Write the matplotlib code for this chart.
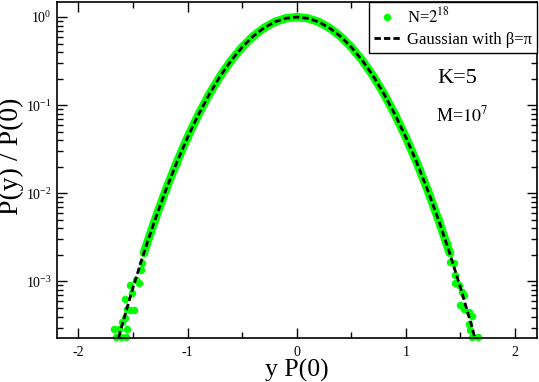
import matplotlib
matplotlib.use("Agg")
import matplotlib.pyplot as plt
from matplotlib.ticker import LogLocator, MultipleLocator, NullFormatter

plt.rcParams['font.family'] = ['Liberation Serif', 'DejaVu Serif']
plt.rcParams['mathtext.fontset'] = 'stix'
plt.rcParams['axes.unicode_minus'] = False

# Gaussian with beta = pi
gauss_x = [-1.7, -1.6, -1.5, -1.4, -1.3, -1.2, -1.1, -1.0, -0.9, -0.8, -0.7, -0.6,
           -0.5, -0.4, -0.3, -0.2, -0.1, 0.0, 0.1, 0.2, 0.3, 0.4, 0.5, 0.6,
           0.7, 0.8, 0.9, 1.0, 1.1, 1.2, 1.3, 1.4, 1.5, 1.6, 1.7]
gauss_y = [1.14e-4, 3.21e-4, 8.51e-4, 2.118e-3, 4.948e-3, 1.085e-2, 2.234e-2, 4.32e-2,
           7.85e-2, 0.1339, 0.2145, 0.3227, 0.4559, 0.6049, 0.7537, 0.882, 0.969, 1.0,
           0.969, 0.882, 0.7537, 0.6049, 0.4559, 0.3227, 0.2145, 0.1339, 7.85e-2,
           4.32e-2, 2.234e-2, 1.085e-2, 4.948e-3, 2.118e-3, 8.51e-4, 3.21e-4, 1.14e-4]

# N = 2^18 data: smooth central part
band_x = [-1.4, -1.3, -1.2, -1.1, -1.0, -0.9, -0.8, -0.7, -0.6, -0.5, -0.4, -0.3, -0.2,
          -0.1, 0.0, 0.1, 0.2, 0.3, 0.4, 0.5, 0.6, 0.7, 0.8, 0.9, 1.0, 1.1, 1.2, 1.3, 1.4]
band_y = [2.12e-3, 4.95e-3, 1.085e-2, 2.23e-2, 4.32e-2, 7.85e-2, 0.134, 0.2145, 0.3227,
          0.456, 0.605, 0.754, 0.882, 0.969, 1.0, 0.969, 0.882, 0.754, 0.605, 0.456,
          0.3227, 0.2145, 0.134, 7.85e-2, 4.32e-2, 2.23e-2, 1.085e-2, 4.95e-3, 2.12e-3]

# N = 2^18 data: noisy tails
tail_x = [-1.416, -1.431, -1.468, -1.523, -1.447, -1.507, -1.569, -1.523, -1.493, -1.553,
          -1.569, -1.599, -1.676, -1.630, -1.553, -1.660, -1.614, -1.560,
          1.377, 1.392, 1.408, 1.438, 1.453, 1.453, 1.484, 1.515, 1.530, 1.499, 1.530,
          1.575, 1.606, 1.575, 1.591, 1.606, 1.658]
tail_y = [1.60e-3, 1.34e-3, 1.03e-3, 9.1e-4, 9.5e-4, 7.3e-4, 6.4e-4, 4.7e-4, 4.7e-4, 4.9e-4,
          3.8e-4, 3.5e-4, 2.9e-4, 2.9e-4, 2.85e-4, 2.35e-4, 2.35e-4, 2.35e-4,
          2.70e-3, 2.27e-3, 1.67e-3, 1.60e-3, 1.18e-3, 9.5e-4, 9.1e-4, 7.6e-4, 7.0e-4,
          5.4e-4, 4.9e-4, 4.5e-4, 4.1e-4, 3.3e-4, 2.8e-4, 2.35e-4, 2.35e-4]

green = '#00ff00'

fig = plt.figure(figsize=(5.39, 3.82), dpi=100)
ax = fig.add_axes([0.105, 0.116, 0.891, 0.88])

ax.plot(band_x, band_y, color=green, lw=6, solid_capstyle='round', zorder=2)
ax.plot(band_x + tail_x, band_y + tail_y, 'o', color=green, ms=5.4, mew=0,
        clip_on=False, zorder=2, label='N=$2^{18}$')
ax.plot(gauss_x, gauss_y, color='black', lw=2, dashes=(2.3, 1.1), zorder=3,
        label='Gaussian with β=π')

ax.set_yscale('log')
ax.set_xlim(-2.2, 2.2)
ax.set_ylim(2.3e-4, 1.5)

ax.xaxis.set_major_locator(MultipleLocator(1))
ax.xaxis.set_minor_locator(MultipleLocator(0.5))
ax.yaxis.set_major_locator(LogLocator(base=10, numticks=10))
ax.yaxis.set_minor_locator(LogLocator(base=10, subs=range(2, 10), numticks=20))
ax.yaxis.set_minor_formatter(NullFormatter())
ax.tick_params(which='both', direction='in', top=True, right=True, width=1, labelsize=10)
ax.tick_params(which='major', length=7)
ax.tick_params(which='minor', length=4)
ax.tick_params(axis='x', pad=6)
for s in ax.spines.values():
    s.set_linewidth(1.2)

ax.set_xlabel('y P(0)', fontsize=18.5)
ax.xaxis.set_label_coords(0.5, -0.063)
ax.set_ylabel('P(y) / P(0)', fontsize=20)
ax.yaxis.set_label_coords(-0.068, 0.54)

ax.text(0.792, 0.758, 'K=5', transform=ax.transAxes, fontsize=16, va='baseline')
ax.text(0.790, 0.642, 'M=$10^7$', transform=ax.transAxes, fontsize=13, va='baseline')

leg = ax.legend(loc='upper right', borderaxespad=0, fancybox=False, framealpha=1,
                edgecolor='black', fontsize=12, handlelength=1.6, handletextpad=0.4,
                borderpad=0.3, labelspacing=0.3, numpoints=1)
leg.get_frame().set_linewidth(1.0)

fig.savefig('out.png', dpi=100)
